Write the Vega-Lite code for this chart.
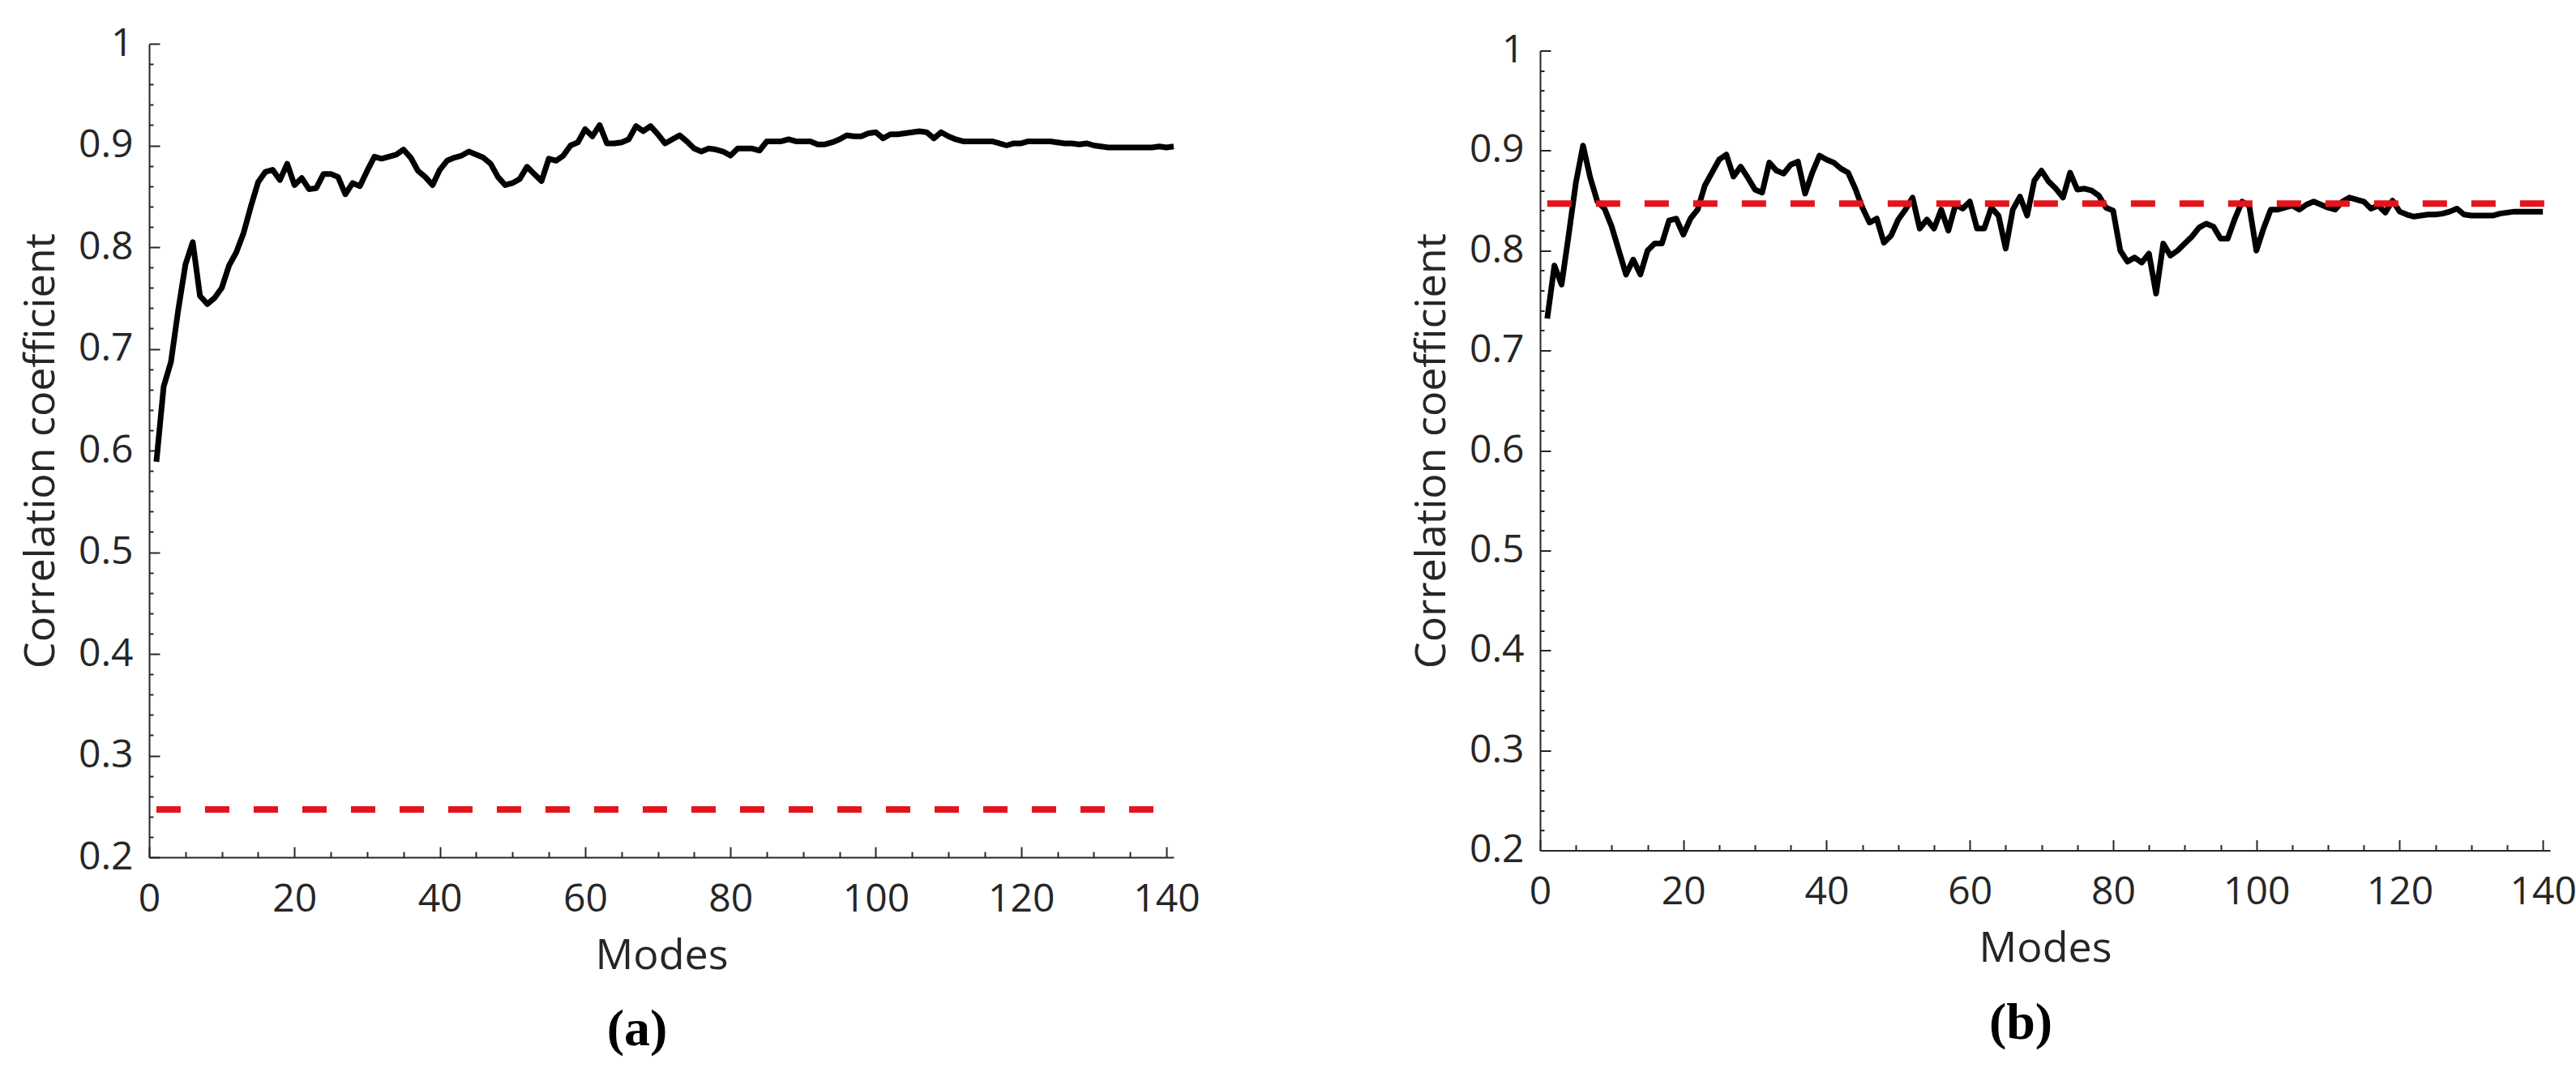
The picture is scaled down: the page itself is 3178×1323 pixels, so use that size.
{
  "$schema": "https://vega.github.io/schema/vega-lite/v6.json",
  "background": "white",
  "padding": {"left": 24, "top": 30, "right": 10, "bottom": 10},
  "datasets": {
    "curveA": [
      {"m":1,"r":0.589},{"m":2,"r":0.663},{"m":3,"r":0.687},{"m":4,"r":0.738},{"m":5,"r":0.783},
      {"m":6,"r":0.805},{"m":7,"r":0.752},{"m":8,"r":0.744},{"m":9,"r":0.750},{"m":10,"r":0.760},
      {"m":11,"r":0.782},{"m":12,"r":0.795},{"m":13,"r":0.814},{"m":14,"r":0.840},{"m":15,"r":0.864},
      {"m":16,"r":0.874},{"m":17,"r":0.876},{"m":18,"r":0.866},{"m":19,"r":0.882},{"m":20,"r":0.861},
      {"m":21,"r":0.868},{"m":22,"r":0.857},{"m":23,"r":0.858},{"m":24,"r":0.872},{"m":25,"r":0.872},
      {"m":26,"r":0.869},{"m":27,"r":0.852},{"m":28,"r":0.863},{"m":29,"r":0.860},{"m":30,"r":0.875},
      {"m":31,"r":0.889},{"m":32,"r":0.887},{"m":33,"r":0.889},{"m":34,"r":0.891},{"m":35,"r":0.896},
      {"m":36,"r":0.888},{"m":37,"r":0.875},{"m":38,"r":0.869},{"m":39,"r":0.861},{"m":40,"r":0.876},
      {"m":41,"r":0.885},{"m":42,"r":0.888},{"m":43,"r":0.890},{"m":44,"r":0.894},{"m":45,"r":0.891},
      {"m":46,"r":0.888},{"m":47,"r":0.882},{"m":48,"r":0.869},{"m":49,"r":0.861},{"m":50,"r":0.863},
      {"m":51,"r":0.867},{"m":52,"r":0.879},{"m":53,"r":0.872},{"m":54,"r":0.865},{"m":55,"r":0.887},
      {"m":56,"r":0.885},{"m":57,"r":0.890},{"m":58,"r":0.900},{"m":59,"r":0.903},{"m":60,"r":0.916},
      {"m":61,"r":0.909},{"m":62,"r":0.920},{"m":63,"r":0.902},{"m":64,"r":0.902},{"m":65,"r":0.903},
      {"m":66,"r":0.906},{"m":67,"r":0.919},{"m":68,"r":0.914},{"m":69,"r":0.919},{"m":70,"r":0.911},
      {"m":71,"r":0.902},{"m":72,"r":0.906},{"m":73,"r":0.910},{"m":74,"r":0.904},{"m":75,"r":0.897},
      {"m":76,"r":0.894},{"m":77,"r":0.897},{"m":78,"r":0.896},{"m":79,"r":0.894},{"m":80,"r":0.890},
      {"m":81,"r":0.897},{"m":82,"r":0.897},{"m":83,"r":0.897},{"m":84,"r":0.895},{"m":85,"r":0.904},
      {"m":86,"r":0.904},{"m":87,"r":0.904},{"m":88,"r":0.906},{"m":89,"r":0.904},{"m":90,"r":0.904},
      {"m":91,"r":0.904},{"m":92,"r":0.901},{"m":93,"r":0.901},{"m":94,"r":0.903},{"m":95,"r":0.906},
      {"m":96,"r":0.910},{"m":97,"r":0.909},{"m":98,"r":0.909},{"m":99,"r":0.912},{"m":100,"r":0.913},
      {"m":101,"r":0.907},{"m":102,"r":0.911},{"m":103,"r":0.911},{"m":104,"r":0.912},{"m":105,"r":0.913},
      {"m":106,"r":0.914},{"m":107,"r":0.913},{"m":108,"r":0.907},{"m":109,"r":0.913},{"m":110,"r":0.909},
      {"m":111,"r":0.906},{"m":112,"r":0.904},{"m":113,"r":0.904},{"m":114,"r":0.904},{"m":115,"r":0.904},
      {"m":116,"r":0.904},{"m":117,"r":0.902},{"m":118,"r":0.900},{"m":119,"r":0.902},{"m":120,"r":0.902},
      {"m":121,"r":0.904},{"m":122,"r":0.904},{"m":123,"r":0.904},{"m":124,"r":0.904},{"m":125,"r":0.903},
      {"m":126,"r":0.902},{"m":127,"r":0.902},{"m":128,"r":0.901},{"m":129,"r":0.902},{"m":130,"r":0.900},
      {"m":131,"r":0.899},{"m":132,"r":0.898},{"m":133,"r":0.898},{"m":134,"r":0.898},{"m":135,"r":0.898},
      {"m":136,"r":0.898},{"m":137,"r":0.898},{"m":138,"r":0.898},{"m":139,"r":0.899},{"m":140,"r":0.898},
      {"m":141,"r":0.899}
    ],
    "curveB": [
      {"m":1,"r":0.732},{"m":2,"r":0.785},{"m":3,"r":0.766},{"m":4,"r":0.816},{"m":5,"r":0.868},
      {"m":6,"r":0.905},{"m":7,"r":0.873},{"m":8,"r":0.849},{"m":9,"r":0.842},{"m":10,"r":0.824},
      {"m":11,"r":0.800},{"m":12,"r":0.776},{"m":13,"r":0.791},{"m":14,"r":0.776},{"m":15,"r":0.800},
      {"m":16,"r":0.807},{"m":17,"r":0.807},{"m":18,"r":0.830},{"m":19,"r":0.832},{"m":20,"r":0.816},
      {"m":21,"r":0.832},{"m":22,"r":0.841},{"m":23,"r":0.865},{"m":24,"r":0.878},{"m":25,"r":0.891},
      {"m":26,"r":0.896},{"m":27,"r":0.874},{"m":28,"r":0.884},{"m":29,"r":0.873},{"m":30,"r":0.861},
      {"m":31,"r":0.858},{"m":32,"r":0.888},{"m":33,"r":0.880},{"m":34,"r":0.877},{"m":35,"r":0.886},
      {"m":36,"r":0.889},{"m":37,"r":0.857},{"m":38,"r":0.878},{"m":39,"r":0.895},{"m":40,"r":0.891},
      {"m":41,"r":0.888},{"m":42,"r":0.882},{"m":43,"r":0.878},{"m":44,"r":0.862},{"m":45,"r":0.843},
      {"m":46,"r":0.828},{"m":47,"r":0.832},{"m":48,"r":0.808},{"m":49,"r":0.815},{"m":50,"r":0.831},
      {"m":51,"r":0.841},{"m":52,"r":0.853},{"m":53,"r":0.822},{"m":54,"r":0.831},{"m":55,"r":0.822},
      {"m":56,"r":0.841},{"m":57,"r":0.820},{"m":58,"r":0.846},{"m":59,"r":0.842},{"m":60,"r":0.849},
      {"m":61,"r":0.822},{"m":62,"r":0.822},{"m":63,"r":0.843},{"m":64,"r":0.835},{"m":65,"r":0.802},
      {"m":66,"r":0.841},{"m":67,"r":0.854},{"m":68,"r":0.835},{"m":69,"r":0.870},{"m":70,"r":0.880},
      {"m":71,"r":0.869},{"m":72,"r":0.862},{"m":73,"r":0.853},{"m":74,"r":0.878},{"m":75,"r":0.861},
      {"m":76,"r":0.862},{"m":77,"r":0.860},{"m":78,"r":0.855},{"m":79,"r":0.843},{"m":80,"r":0.840},
      {"m":81,"r":0.800},{"m":82,"r":0.789},{"m":83,"r":0.793},{"m":84,"r":0.788},{"m":85,"r":0.797},
      {"m":86,"r":0.757},{"m":87,"r":0.807},{"m":88,"r":0.795},{"m":89,"r":0.800},{"m":90,"r":0.807},
      {"m":91,"r":0.814},{"m":92,"r":0.823},{"m":93,"r":0.827},{"m":94,"r":0.824},{"m":95,"r":0.812},
      {"m":96,"r":0.812},{"m":97,"r":0.832},{"m":98,"r":0.849},{"m":99,"r":0.845},{"m":100,"r":0.800},
      {"m":101,"r":0.822},{"m":102,"r":0.841},{"m":103,"r":0.841},{"m":104,"r":0.843},{"m":105,"r":0.845},
      {"m":106,"r":0.841},{"m":107,"r":0.846},{"m":108,"r":0.849},{"m":109,"r":0.846},{"m":110,"r":0.843},
      {"m":111,"r":0.841},{"m":112,"r":0.849},{"m":113,"r":0.853},{"m":114,"r":0.851},{"m":115,"r":0.849},
      {"m":116,"r":0.842},{"m":117,"r":0.845},{"m":118,"r":0.838},{"m":119,"r":0.850},{"m":120,"r":0.839},
      {"m":121,"r":0.836},{"m":122,"r":0.834},{"m":123,"r":0.835},{"m":124,"r":0.836},{"m":125,"r":0.836},
      {"m":126,"r":0.837},{"m":127,"r":0.839},{"m":128,"r":0.842},{"m":129,"r":0.836},{"m":130,"r":0.835},
      {"m":131,"r":0.835},{"m":132,"r":0.835},{"m":133,"r":0.835},{"m":134,"r":0.837},{"m":135,"r":0.838},
      {"m":136,"r":0.839},{"m":137,"r":0.839},{"m":138,"r":0.839},{"m":139,"r":0.839},{"m":140,"r":0.839}
    ],
    "refA": [{"start":1,"end":141,"r":0.247}],
    "refB": [{"start":1,"end":141,"r":0.847}]
  },
  "config": {
    "font": "Open Sans",
    "view": {"stroke": null},
    "axis": {
      "labelFont": "Open Sans",
      "titleFont": "Open Sans",
      "labelFontSize": 48,
      "titleFontSize": 52,
      "titleFontWeight": "normal",
      "labelColor": "#262626",
      "titleColor": "#262626",
      "domainColor": "#262626",
      "tickColor": "#262626",
      "domainWidth": 2,
      "tickWidth": 2,
      "labelFlush": false,
      "grid": false
    },
    "title": {
      "font": "Liberation Serif",
      "fontSize": 64,
      "fontWeight": "bold",
      "color": "black"
    }
  },
  "hconcat": [
    {
      "width": 1264,
      "height": 1004,
      "title": {"text": "(a)", "orient": "bottom", "offset": 34, "dx": -30},
      "layer": [
        {
          "data": {"name": "curveA"},
          "mark": {"type": "line", "color": "black", "strokeWidth": 7, "strokeJoin": "round"},
          "encoding": {
            "x": {
              "field": "m", "type": "quantitative",
              "scale": {"domain": [0, 141], "nice": false},
              "axis": {"title": "Modes", "values": [0, 20, 40, 60, 80, 100, 120, 140], "tickSize": -13, "labelPadding": 41, "titlePadding": 20}
            },
            "y": {
              "field": "r", "type": "quantitative",
              "scale": {"domain": [0.2, 1], "nice": false, "zero": false},
              "axis": {"title": "Correlation coefficient", "values": [0.2, 0.3, 0.4, 0.5, 0.6, 0.7, 0.8, 0.9, 1], "format": "~g", "tickSize": -13, "labelPadding": 33, "titlePadding": 19}
            }
          }
        },
        {
          "data": {"name": "refA"},
          "mark": {"type": "rule", "color": "#e3141c", "strokeWidth": 8, "strokeDash": [30, 30]},
          "encoding": {
            "x": {
              "field": "start", "type": "quantitative",
              "axis": {"orient": "bottom", "title": null, "labels": false, "domain": false, "tickSize": -7, "values": [5, 10, 15, 25, 30, 35, 45, 50, 55, 65, 70, 75, 85, 90, 95, 105, 110, 115, 125, 130, 135]}
            },
            "x2": {"field": "end"},
            "y": {
              "field": "r", "type": "quantitative",
              "axis": {"orient": "left", "title": null, "labels": false, "domain": false, "tickSize": -5, "values": [0.22, 0.24, 0.26, 0.28, 0.32, 0.34, 0.36, 0.38, 0.42, 0.44, 0.46, 0.48, 0.52, 0.54, 0.56, 0.58, 0.62, 0.64, 0.66, 0.68, 0.72, 0.74, 0.76, 0.78, 0.82, 0.84, 0.86, 0.88, 0.92, 0.94, 0.96, 0.98]}
            }
          }
        }
      ],
      "resolve": {"axis": {"x": "independent", "y": "independent"}}
    },
    {
      "width": 1246,
      "height": 987,
      "title": {"text": "(b)", "orient": "bottom", "offset": 34, "dx": -30},
      "layer": [
        {
          "data": {"name": "curveB"},
          "mark": {"type": "line", "color": "black", "strokeWidth": 7, "strokeJoin": "round"},
          "encoding": {
            "x": {
              "field": "m", "type": "quantitative",
              "scale": {"domain": [0, 141], "nice": false},
              "axis": {"title": "Modes", "values": [0, 20, 40, 60, 80, 100, 120, 140], "tickSize": -13, "labelPadding": 41, "titlePadding": 20}
            },
            "y": {
              "field": "r", "type": "quantitative",
              "scale": {"domain": [0.2, 1], "nice": false, "zero": false},
              "axis": {"title": "Correlation coefficient", "values": [0.2, 0.3, 0.4, 0.5, 0.6, 0.7, 0.8, 0.9, 1], "format": "~g", "tickSize": -13, "labelPadding": 33, "titlePadding": 19}
            }
          }
        },
        {
          "data": {"name": "refB"},
          "mark": {"type": "rule", "color": "#e3141c", "strokeWidth": 8, "strokeDash": [30, 30]},
          "encoding": {
            "x": {
              "field": "start", "type": "quantitative",
              "axis": {"orient": "bottom", "title": null, "labels": false, "domain": false, "tickSize": -7, "values": [5, 10, 15, 25, 30, 35, 45, 50, 55, 65, 70, 75, 85, 90, 95, 105, 110, 115, 125, 130, 135]}
            },
            "x2": {"field": "end"},
            "y": {
              "field": "r", "type": "quantitative",
              "axis": {"orient": "left", "title": null, "labels": false, "domain": false, "tickSize": -5, "values": [0.22, 0.24, 0.26, 0.28, 0.32, 0.34, 0.36, 0.38, 0.42, 0.44, 0.46, 0.48, 0.52, 0.54, 0.56, 0.58, 0.62, 0.64, 0.66, 0.68, 0.72, 0.74, 0.76, 0.78, 0.82, 0.84, 0.86, 0.88, 0.92, 0.94, 0.96, 0.98]}
            }
          }
        }
      ],
      "resolve": {"axis": {"x": "independent", "y": "independent"}}
    }
  ],
  "bounds": "flush",
  "center": true,
  "spacing": 452
}
